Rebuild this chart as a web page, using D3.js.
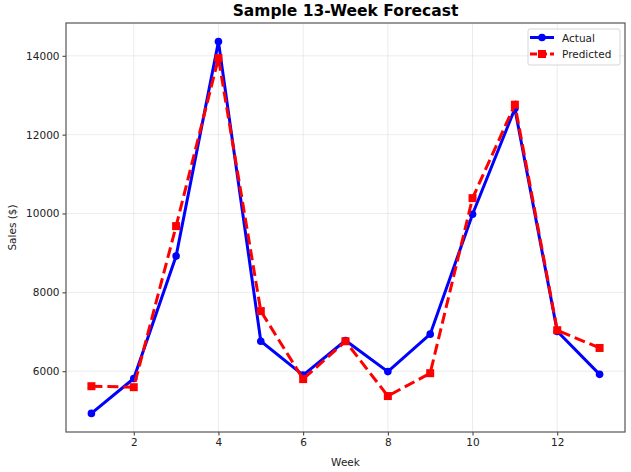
<!DOCTYPE html>
<html>
<head>
<meta charset="utf-8">
<script src="https://cdn.jsdelivr.net/npm/d3@7"></script>
<style>
  body { margin: 0; background: #fff; }
  text { font-family: "DejaVu Sans", sans-serif; }
</style>
</head>
<body>
<div id="chart"></div>
<script>
// weekly sales
var weeks = [1, 2, 3, 4, 5, 6, 7, 8, 9, 10, 11, 12, 13];
var actual = [4930, 5815, 8920, 14360, 6760, 5900, 6780, 5990, 6940, 9980, 12660, 7010, 5920];
var predicted = [5620, 5595, 9680, 13940, 7525, 5800, 6760, 5370, 5950, 10390, 12760, 7040, 6590];
var xTicks = [2, 4, 6, 8, 10, 12];
var yTicks = [6000, 8000, 10000, 12000, 14000];

var W = 631, H = 472;
var margin = {top: 23, right: 6, bottom: 40, left: 66};
var width = W - margin.left - margin.right,
    height = H - margin.top - margin.bottom;

var svg = d3.select("#chart")
    .append("svg")
    .attr("width", W)
    .attr("height", H);

var g = svg.append("g")
    .attr("transform", "translate(" + margin.left + "," + margin.top + ")");

// matplotlib style 5% padding
var xPad = (13 - 1) * 0.05;
var x = d3.scaleLinear().domain([1 - xPad, 13 + xPad]).range([0, width]);
var yMin = d3.min(actual.concat(predicted)), yMax = d3.max(actual.concat(predicted));
var yPad = (yMax - yMin) * 0.05;
var y = d3.scaleLinear().domain([yMin - yPad, yMax + yPad]).range([height, 0]);

// grid
g.append("g").selectAll("line").data(xTicks).enter().append("line")
    .attr("x1", d => x(d)).attr("x2", d => x(d))
    .attr("y1", 0).attr("y2", height)
    .attr("stroke", "#b0b0b0").attr("stroke-opacity", 0.3).attr("stroke-width", 0.8);
g.append("g").selectAll("line").data(yTicks).enter().append("line")
    .attr("y1", d => y(d)).attr("y2", d => y(d))
    .attr("x1", 0).attr("x2", width)
    .attr("stroke", "#b0b0b0").attr("stroke-opacity", 0.3).attr("stroke-width", 0.8);

// axes
var xAxis = g.append("g")
    .attr("transform", "translate(0," + height + ")")
    .call(d3.axisBottom(x).tickValues(xTicks).tickSize(3.5).tickPadding(3));
var yAxis = g.append("g")
    .call(d3.axisLeft(y).tickValues(yTicks).tickSize(3.5).tickPadding(3).tickFormat(d3.format("d")));
[xAxis, yAxis].forEach(function (a) {
    a.select(".domain").remove();
    a.selectAll("line").attr("stroke", "#333");
    a.selectAll("text").attr("font-size", "10.5px").attr("fill", "#222")
        .style("font-family", "DejaVu Sans, sans-serif");
});

// frame
g.append("rect")
    .attr("width", width).attr("height", height)
    .attr("fill", "none").attr("stroke", "#555").attr("stroke-width", 1.2);

var line = d3.line().x((d, i) => x(weeks[i])).y(d => y(d));

g.append("path").datum(actual)
    .attr("d", line).attr("fill", "none")
    .attr("stroke", "#0000ff").attr("stroke-width", 3);
g.append("g").selectAll("circle").data(actual).enter().append("circle")
    .attr("cx", (d, i) => x(weeks[i])).attr("cy", d => y(d))
    .attr("r", 3.8).attr("fill", "#0000ff");

g.append("path").datum(predicted)
    .attr("d", line).attr("fill", "none")
    .attr("stroke", "#ff0000").attr("stroke-width", 3)
    .attr("stroke-dasharray", "11,5");
g.append("g").selectAll("rect").data(predicted).enter().append("rect")
    .attr("x", (d, i) => x(weeks[i]) - 4).attr("y", d => y(d) - 4)
    .attr("width", 8).attr("height", 8).attr("fill", "#ff0000");

// title + labels
svg.append("text")
    .attr("x", margin.left + width / 2).attr("y", 16)
    .attr("text-anchor", "middle")
    .attr("font-size", "15.5px").attr("font-weight", "bold")
    .text("Sample 13-Week Forecast");
svg.append("text")
    .attr("x", margin.left + width / 2).attr("y", H - 6)
    .attr("text-anchor", "middle").attr("font-size", "10.5px").attr("fill", "#222")
    .text("Week");
svg.append("text")
    .attr("transform", "translate(16," + (margin.top + height / 2) + ") rotate(-90)")
    .attr("text-anchor", "middle").attr("font-size", "10.5px").attr("fill", "#222")
    .text("Sales ($)");

// legend
var leg = g.append("g").attr("transform", "translate(" + (width - 97) + ",6)");
leg.append("rect")
    .attr("width", 92).attr("height", 36).attr("rx", 2)
    .attr("fill", "#fff").attr("fill-opacity", 0.8)
    .attr("stroke", "#ccc").attr("stroke-width", 0.8);
var items = [
    {name: "Actual", color: "#0000ff", dash: null, mark: "circle"},
    {name: "Predicted", color: "#ff0000", dash: "7,3", mark: "square"}
];
items.forEach(function (it, i) {
    var yy = 8.5 + i * 16.5;
    leg.append("line").attr("x1", 2).attr("x2", 26).attr("y1", yy).attr("y2", yy)
        .attr("stroke", it.color).attr("stroke-width", 3).attr("stroke-dasharray", it.dash);
    if (it.mark == "circle")
        leg.append("circle").attr("cx", 14).attr("cy", yy).attr("r", 3.8).attr("fill", it.color);
    else
        leg.append("rect").attr("x", 10).attr("y", yy - 4).attr("width", 8).attr("height", 8).attr("fill", it.color);
    leg.append("text").attr("x", 34).attr("y", yy + 4)
        .attr("font-size", "10.5px").attr("fill", "#222").text(it.name);
});
</script>
</body>
</html>
